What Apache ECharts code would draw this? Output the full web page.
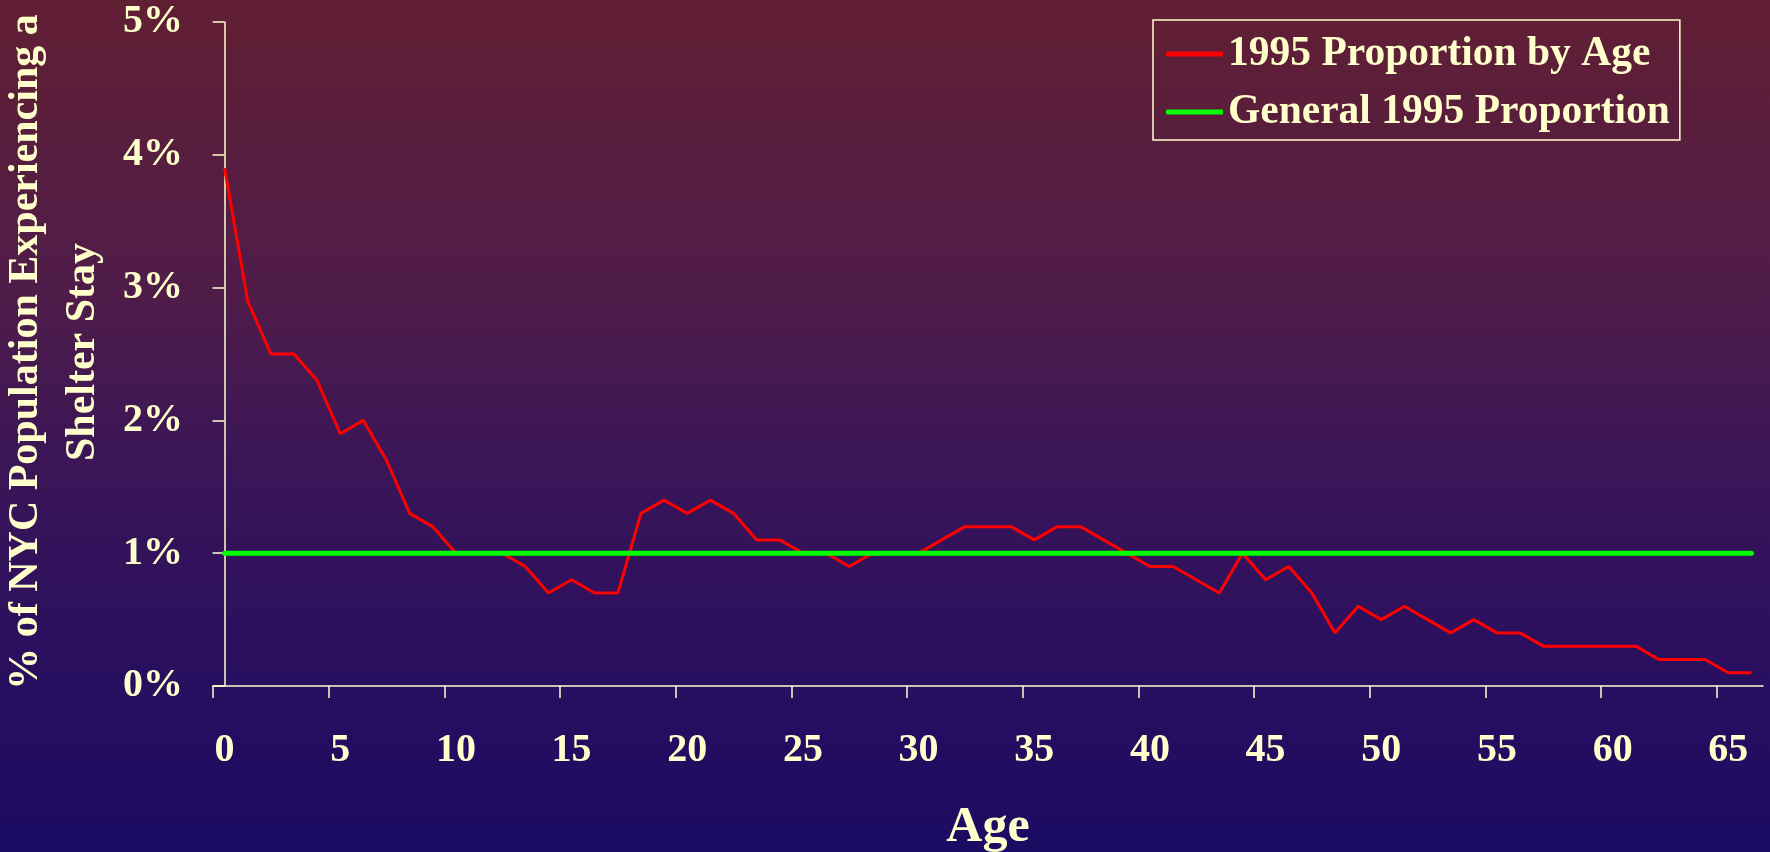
<!DOCTYPE html>
<html>
<head>
<meta charset="utf-8">
<script src="https://cdn.jsdelivr.net/npm/echarts@6/dist/echarts.min.js"></script>
<style>
  html, body { margin: 0; padding: 0; }
  #chart {
    width: 1770px; height: 852px;
    background: linear-gradient(to bottom, #611f33 0%, #4f1c4a 35%, #3a1558 55%, #2a0f5f 78%, #1a0b63 100%);
  }
</style>
</head>
<body>
<div id="chart"></div>
<script>
// Ages 0..66
const ages = [];
for (let a = 0; a <= 66; a++) ages.push(a);

// 1995 Proportion by Age (% of NYC population experiencing a shelter stay)
const proportionByAge = [
  3.9, 2.9, 2.5, 2.5, 2.3, 1.9, 2.0, 1.7, 1.3, 1.2,
  1.0, 1.0, 1.0, 0.9, 0.7, 0.8, 0.7, 0.7, 1.3, 1.4,
  1.3, 1.4, 1.3, 1.1, 1.1, 1.0, 1.0, 0.9, 1.0, 1.0,
  1.0, 1.1, 1.2, 1.2, 1.2, 1.1, 1.2, 1.2, 1.1, 1.0,
  0.9, 0.9, 0.8, 0.7, 1.0, 0.8, 0.9, 0.7, 0.4, 0.6,
  0.5, 0.6, 0.5, 0.4, 0.5, 0.4, 0.4, 0.3, 0.3, 0.3,
  0.3, 0.3, 0.2, 0.2, 0.2, 0.1, 0.1
];

// General 1995 proportion
const generalProportion = ages.map(() => 1.0);

const xTickLabels = [0, 5, 10, 15, 20, 25, 30, 35, 40, 45, 50, 55, 60, 65];
const yTickLabels = [0, 1, 2, 3, 4, 5];

const cream = '#ffffcc';
const font = "'Liberation Serif', 'Times New Roman', serif";

const chart = echarts.init(document.getElementById('chart'), null, { renderer: 'canvas' });

chart.setOption({
  backgroundColor: 'transparent',
  animation: false,
  grid: { left: 213, right: 7, top: 22, bottom: 166, containLabel: false, outerBoundsMode: 'none' },
  legend: {
    orient: 'vertical',
    left: 1153,
    top: 20,
    padding: [13, 10, 7, 13],
    itemGap: 16,
    itemWidth: 57,
    itemHeight: 5,
    borderColor: cream,
    borderWidth: 1.5,
    borderRadius: 0,
    textStyle: { color: cream, fontFamily: font, fontWeight: 'bold', fontSize: 41.5 },
    data: [
      { name: '1995 Proportion by Age', icon: 'roundRect' },
      { name: 'General 1995 Proportion', icon: 'roundRect' }
    ]
  },
  xAxis: {
    type: 'value',
    min: -0.5,
    max: 66.5,
    name: 'Age',
    nameLocation: 'middle',
    nameGap: 117,
    nameTextStyle: { color: cream, fontFamily: font, fontWeight: 'bold', fontSize: 50 },
    axisLine: { show: true, lineStyle: { color: cream, width: 1.5 } },
    axisTick: {
      show: true, inside: false, length: 12,
      lineStyle: { color: cream, width: 1.5 },
      customValues: xTickLabels.map(v => v - 0.5)
    },
    axisLabel: {
      color: cream, fontFamily: font, fontWeight: 'bold', fontSize: 40, margin: 45,
      customValues: xTickLabels
    },
    splitLine: { show: false }
  },
  yAxis: {
    type: 'value',
    min: 0,
    max: 5,
    interval: 1,
    name: '% of NYC Population Experiencing a\nShelter Stay',
    nameLocation: 'middle',
    nameRotate: 90,
    nameGap: 94,
    nameTextStyle: { color: cream, fontFamily: font, fontWeight: 'bold', fontSize: 42, lineHeight: 57, padding: [0, 0, 0, 4] },
    axisLine: { show: true, lineStyle: { color: cream, width: 1.5 } },
    axisTick: { show: true, inside: false, length: 12, lineStyle: { color: cream, width: 1.5 } },
    axisLabel: {
      color: cream, fontFamily: font, fontWeight: 'bold', fontSize: 40, margin: 30,
      formatter: '{value}%'
    },
    splitLine: { show: false }
  },
  series: [
    {
      name: '1995 Proportion by Age',
      type: 'line',
      data: ages.map((a, i) => [a, proportionByAge[i]]),
      showSymbol: false,
      symbol: 'none',
      lineStyle: { color: '#ff0000', width: 3 },
      itemStyle: { color: '#ff0000' }
    },
    {
      name: 'General 1995 Proportion',
      type: 'line',
      data: ages.map((a, i) => [a, generalProportion[i]]),
      showSymbol: false,
      symbol: 'none',
      lineStyle: { color: '#00ff00', width: 5, cap: 'round' },
      itemStyle: { color: '#00ff00' }
    }
  ]
});
</script>
</body>
</html>
